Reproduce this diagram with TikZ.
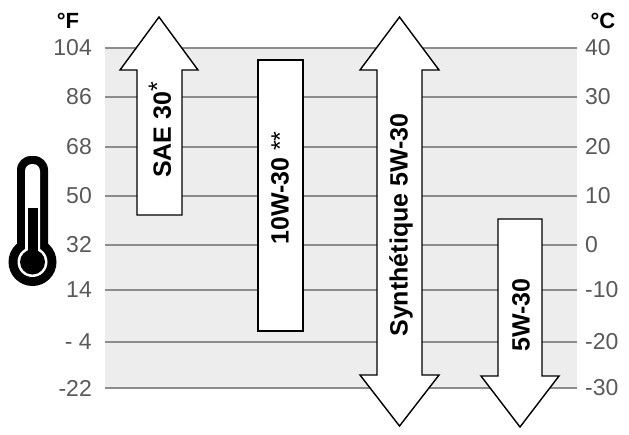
\documentclass[tikz,border=0pt]{standalone}
\usepackage{fontspec}
\setmainfont{Liberation Sans}
\begin{document}
\begin{tikzpicture}[x=1pt,y=-1pt,
  grid/.style={draw=black!45,line width=1.2pt},
  lab/.style={text=black!65,font=\fontsize{23}{23}\selectfont,inner sep=0pt},
  unit/.style={font=\bfseries\fontsize{22}{22}\selectfont,inner sep=0pt},
  oil/.style={draw=black,fill=white,line width=1.4pt},
  oiltext/.style={font=\bfseries\fontsize{25}{25}\selectfont,rotate=90,inner sep=0pt}]
\useasboundingbox (0,0) rectangle (629,434);
\fill[black!7] (105,48) rectangle (577,388);
\foreach \y/\f/\c [count=\i] in {48/104/40,97/86/30,147/68/20,196/50/10,245/32/0,290/14/-10,342/- 4/-20,388/-22/-30}{
  \draw[grid] (105,\y) -- (577,\y);
  \node[lab,anchor=east] (f\i) at (92,\y) {\f};
  \node[lab,anchor=west] (c\i) at (585,\y) {\c};
}
\node[unit] (uf) at (68,21) {°F};
\node[unit] (uc) at (603,21) {°C};
% thermometer
\fill[black,rounded corners=14pt] (17,156) rectangle (48,262);
\fill[black] (32.5,262) circle (24);
\fill[white,rounded corners=7pt] (25,164) rectangle (40,262);
\fill[white] (32.5,262) circle (15);
\fill[black] (32.5,262) circle (12.5);
\fill[black] (27.5,208) rectangle (37.5,262);
% SAE 30
\draw[oil] (137,215) -- (137,70) -- (120,70) -- (159,17) -- (198,70) -- (182,70) -- (182,215) -- cycle;
\node[oiltext] (sae) at (160,130) {SAE 30\raisebox{5pt}{\mdseries*}};
% 10W-30
\draw[oil] (258,60) rectangle (303,331);
\node[oiltext] (tw) at (280,188) {10W-30 \mdseries**};
% Synthetique
\draw[oil] (377,70) -- (360,70) -- (399.5,17) -- (439,70) -- (422,70) -- (422,375) -- (439,375) -- (399.5,426) -- (360,375) -- (377,375) -- cycle;
\node[oiltext] (syn) at (401,225) {Synthétique 5W-30};
% 5W-30
\draw[oil] (498,219) -- (542,219) -- (542,376) -- (559,376) -- (520,427) -- (481,376) -- (498,376) -- cycle;
\node[oiltext] (fw) at (521,315) {5W-30};
\end{tikzpicture}
\end{document}
